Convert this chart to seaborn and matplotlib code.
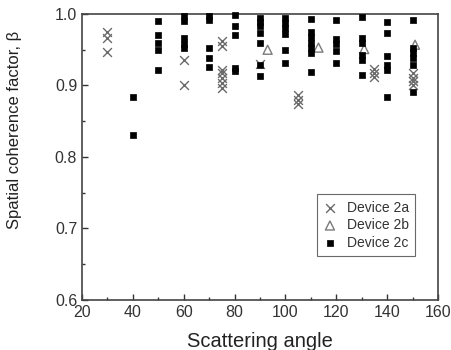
import numpy as np
import pandas as pd
import matplotlib
matplotlib.use("Agg")
import matplotlib.pyplot as plt
from matplotlib.ticker import MultipleLocator
import seaborn as sns

# ---- data ----
dev2a_x = [30, 30, 30, 60, 60, 75, 75, 75, 75, 75, 75, 75, 90, 105, 105, 105,
           135, 135, 135, 150, 150, 150, 150]
dev2a_y = [0.975, 0.966, 0.947, 0.936, 0.900, 0.962, 0.955, 0.922, 0.918, 0.910,
           0.903, 0.897, 0.930, 0.886, 0.880, 0.874, 0.923, 0.918, 0.912,
           0.917, 0.911, 0.906, 0.901]

dev2b_x = [93, 113, 131, 151]
dev2b_y = [0.950, 0.953, 0.951, 0.957]

dev2c_x = [40, 40,
           50, 50, 50, 50, 50,
           60, 60, 60, 60, 60,
           70, 70, 70, 70, 70,
           80, 80, 80, 80, 80,
           90, 90, 90, 90, 90, 90, 90,
           100, 100, 100, 100, 100, 100,
           110, 110, 110, 110, 110, 110, 110,
           120, 120, 120, 120, 120,
           130, 130, 130, 130, 130, 130,
           140, 140, 140, 140, 140, 140,
           150, 150, 150, 150, 150, 150]
dev2c_y = [0.884, 0.831,
           0.990, 0.971, 0.960, 0.950, 0.921,
           0.997, 0.990, 0.967, 0.958, 0.952,
           0.997, 0.991, 0.952, 0.938, 0.926,
           0.999, 0.983, 0.970, 0.925, 0.920,
           0.995, 0.989, 0.983, 0.973, 0.960, 0.928, 0.913,
           0.995, 0.988, 0.980, 0.972, 0.950, 0.932,
           0.993, 0.975, 0.968, 0.959, 0.952, 0.945, 0.919,
           0.992, 0.965, 0.958, 0.948, 0.932,
           0.996, 0.966, 0.960, 0.943, 0.936, 0.915,
           0.989, 0.973, 0.941, 0.929, 0.922, 0.884,
           0.992, 0.952, 0.945, 0.938, 0.929, 0.891]

labels = ["Device 2a", "Device 2b", "Device 2c"]
x_label = "Scattering angle"
y_label = "Spatial coherence factor, \u03b2"

sns.set_style("white")
plt.rcParams['font.family'] = ['Liberation Sans', 'DejaVu Sans']

fig = plt.figure(figsize=(4.51, 3.5), dpi=100)
ax = fig.add_axes([0.182, 0.143, 0.789, 0.817])

df_a = pd.DataFrame({"x": dev2a_x, "y": dev2a_y})
df_b = pd.DataFrame({"x": dev2b_x, "y": dev2b_y})
df_c = pd.DataFrame({"x": dev2c_x, "y": dev2c_y})

sns.scatterplot(data=df_a, x="x", y="y", ax=ax, marker="x", s=40,
                color="#6a6a6a", linewidth=1.0, label=labels[0], clip_on=False, zorder=3)
sns.scatterplot(data=df_b, x="x", y="y", ax=ax, marker="^", s=42,
                facecolor="none", edgecolor="#7a7a7a", linewidth=1.0,
                label=labels[1], clip_on=False, zorder=3)
sns.scatterplot(data=df_c, x="x", y="y", ax=ax, marker="s", s=25,
                color="black", edgecolor="black", linewidth=0.5,
                label=labels[2], clip_on=False, zorder=3)

ax.set_xlim(20, 160)
ax.set_ylim(0.6, 1.0)
ax.xaxis.set_major_locator(MultipleLocator(20))
ax.xaxis.set_minor_locator(MultipleLocator(10))
ax.yaxis.set_major_locator(MultipleLocator(0.1))
ax.yaxis.set_minor_locator(MultipleLocator(0.05))
ax.set_yticks([0.6, 0.7, 0.8, 0.9, 1.0])
ax.set_yticklabels(["0.6", "0.7", "0.8", "0.9", "1.0"])
ax.tick_params(which="both", direction="in", bottom=True, left=True,
               top=False, right=False, colors="#333333", labelsize=11.5)
ax.tick_params(which="major", length=4, width=1)
ax.tick_params(which="minor", length=2.5, width=1)
for sp in ax.spines.values():
    sp.set_color("#444444")
    sp.set_linewidth(1.2)

ax.set_xlabel(x_label, fontsize=14.5, color="#222222")
ax.xaxis.set_label_coords(0.5, -0.113)
ax.set_ylabel(y_label, fontsize=12, color="#222222")
ax.yaxis.set_label_coords(-0.169, 0.594)

leg = ax.legend(loc="lower right", bbox_to_anchor=(0.955, 0.13), fontsize=10,
                frameon=True, fancybox=False, edgecolor="#444444",
                handletextpad=0.7, borderpad=0.45, labelspacing=0.25,
                handlelength=1.0)
leg.get_frame().set_linewidth(0.8)
for t in leg.get_texts():
    t.set_color("#333333")

fig.savefig("out.png", dpi=100)
